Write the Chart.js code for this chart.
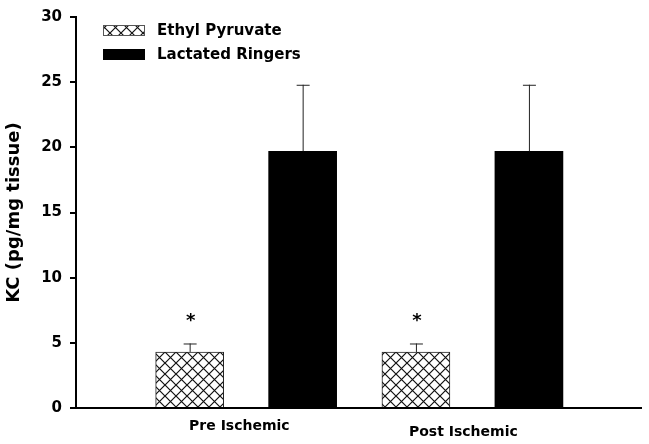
<!DOCTYPE html>
<html>
<head>
<meta charset="utf-8">
<script src="https://cdn.jsdelivr.net/npm/chart.js@4/dist/chart.umd.min.js"></script>
<style>
  html, body { margin: 0; padding: 0; background: #fff; }
  #wrap { width: 649px; height: 444px; }
</style>
</head>
<body>
<div id="wrap"><canvas id="chart"></canvas></div>
<script>
const categories = ["Pre Ischemic", "Post Ischemic"];
const ethylValues = [4.3, 4.3];
const ethylErrors = [0.65, 0.65];
const ringerValues = [19.7, 19.7];
const ringerErrors = [5.1, 5.1];
const ethylSig = ["*", "*"];
const yTicks = [0, 5, 10, 15, 20, 25, 30];

const FONT = "'DejaVu Sans', 'Liberation Sans', Arial, sans-serif";

// crosshatch fill for the ethyl pyruvate bars
function hatch() {
  const c = document.createElement("canvas");
  c.width = 11; c.height = 11;
  const g = c.getContext("2d");
  g.fillStyle = "#fff";
  g.fillRect(0, 0, 11, 11);
  g.strokeStyle = "#111";
  g.lineWidth = 1.2;
  g.beginPath();
  g.moveTo(0, 0); g.lineTo(11, 11);
  g.moveTo(11, 0); g.lineTo(0, 11);
  g.stroke();
  return g.createPattern(c, "repeat");
}
const hatchFill = hatch();

const errorBars = {
  id: "errorBars",
  afterDatasetsDraw(chart) {
    const ctx = chart.ctx;
    const y = chart.scales.y;
    const errs = [ethylErrors, ringerErrors];
    ctx.save();
    chart.data.datasets.forEach((ds, di) => {
      const meta = chart.getDatasetMeta(di);
      meta.data.forEach((bar, i) => {
        const top = y.getPixelForValue(ds.data[i].y + errs[di][i]);
        ctx.strokeStyle = "#222";
        ctx.lineWidth = 1;
        ctx.beginPath();
        ctx.moveTo(bar.x + 0.5, bar.y);
        ctx.lineTo(bar.x + 0.5, top);
        ctx.moveTo(bar.x - 6, top + 0.5);
        ctx.lineTo(bar.x + 7, top + 0.5);
        ctx.stroke();
        if (di === 0 && ethylSig[i]) {
          ctx.fillStyle = "#000";
          ctx.font = "bold 18px " + FONT;
          ctx.textAlign = "center";
          ctx.textBaseline = "alphabetic";
          ctx.fillText(ethylSig[i], bar.x + 1, top - 17);
        }
      });
    });
    ctx.restore();
  }
};

const boxLegend = {
  id: "boxLegend",
  afterDraw(chart) {
    const ctx = chart.ctx;
    const a = chart.chartArea;
    ctx.save();
    chart.data.datasets.forEach((ds, i) => {
      const bx = a.left + 27, by = a.top + 8 + i * 24;
      ctx.fillStyle = ds.backgroundColor;
      ctx.fillRect(bx, by, 42, 11);
      if (i === 0) {
        ctx.strokeStyle = "#555";
        ctx.lineWidth = 1;
        ctx.strokeRect(bx + 0.5, by + 0.5, 41, 10);
      }
      ctx.fillStyle = "#000";
      ctx.font = "bold 15px " + FONT;
      ctx.textAlign = "left";
      ctx.textBaseline = "middle";
      ctx.fillText(ds.label, a.left + 81, by + 6);
    });
    ctx.restore();
  }
};

new Chart(document.getElementById("chart"), {
  type: "bar",
  data: {
    datasets: [
      {
        label: "Ethyl Pyruvate",
        data: ethylValues.map((v, i) => ({ x: i, y: v })),
        backgroundColor: hatchFill,
        borderColor: "#222",
        borderWidth: 1
      },
      {
        label: "Lactated Ringers",
        data: ringerValues.map((v, i) => ({ x: i, y: v })),
        backgroundColor: "#000",
        borderWidth: 0
      }
    ]
  },
  options: {
    responsive: true,
    maintainAspectRatio: false,
    animation: false,
    barThickness: 113,
    maxBarThickness: 68,
    layout: { padding: { left: 0, right: 8, top: 12, bottom: 0 } },
    plugins: { legend: { display: false }, tooltip: { enabled: false } },
    scales: {
      x: {
        type: "linear",
        min: -0.752,
        max: 1.745,
        offset: false,
        grid: { display: false, offset: false },
        border: { display: true, color: "#000", width: 2 },
        afterBuildTicks: s => { s.ticks = [{ value: -0.03 }, { value: 0.96 }]; },
        afterFit: s => { s.height = 36; },
        ticks: {
          padding: 0,
          maxRotation: 0,
          autoSkip: false,
          color: "#000",
          font: c => ({ family: FONT, size: 14, weight: "bold", lineHeight: c.index === 1 ? "32px" : "20px" }),
          callback: (v, i) => categories[i]
        }
      },
      y: {
        min: 0,
        max: 30,
        afterBuildTicks: s => { s.ticks = yTicks.map(v => ({ value: v })); },
        afterFit: s => { s.width = 76; },
        grid: { drawOnChartArea: false, drawTicks: true, tickLength: 6, color: "#000", lineWidth: 2 },
        border: { display: true, color: "#000", width: 2 },
        ticks: { padding: 8, color: "#000", font: { family: FONT, size: 15, weight: "bold" } },
        title: {
          display: true,
          text: "KC (pg/mg tissue)",
          color: "#000",
          font: { family: FONT, size: 18, weight: "bold" },
          padding: { top: 4, bottom: 0 }
        }
      }
    }
  },
  plugins: [errorBars, boxLegend]
});
</script>
</body>
</html>
